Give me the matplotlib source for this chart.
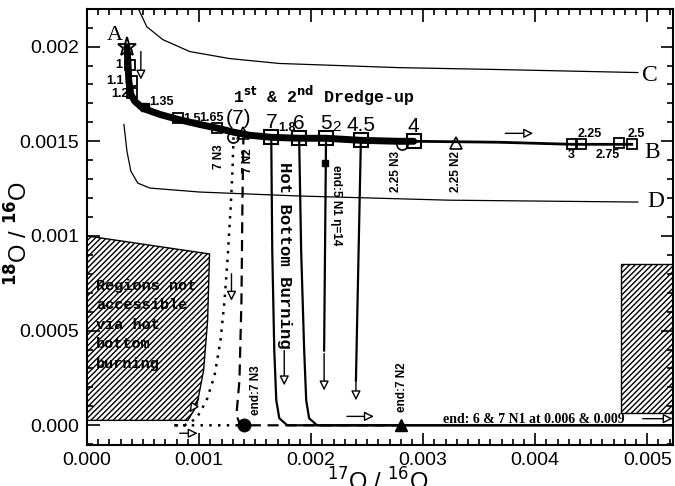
import matplotlib
matplotlib.use('agg')
import matplotlib.pyplot as plt
from matplotlib.patches import Polygon, Rectangle
from matplotlib.ticker import MultipleLocator
import numpy as np

# evolution track (1st & 2nd dredge-up), thick part then thin part
evo_x = [0.000356, 0.000364, 0.000373, 0.000391, 0.000427, 0.000498, 0.000649, 0.000809,
         0.001004, 0.001173, 0.001316, 0.001449, 0.001644, 0.001893, 0.002133, 0.002444,
         0.002782, 0.002916]
evo_y = [0.002000, 0.001921, 0.001816, 0.001747, 0.001711, 0.001674, 0.001642, 0.001616,
         0.001589, 0.001568, 0.001547, 0.001532, 0.001521, 0.001516, 0.001516, 0.001505,
         0.001500, 0.001500]
evo2_x = [0.002916, 0.003671, 0.004329, 0.004862]
evo2_y = [0.001500, 0.001495, 0.001484, 0.001484]

# small mass squares
sm_x = [0.000382, 0.000400, 0.000400, 0.000809, 0.001164, 0.004329, 0.004409, 0.004747, 0.004862]
sm_y = [0.001905, 0.001816, 0.001753, 0.001621, 0.001568, 0.001484, 0.001484, 0.001489, 0.001484]
sm_lab = ['1', '1.1', '1.2', '1.5', '1.65', '3', '2.25', '2.75', '2.5']
# label positions for the small squares
sm_lx = [0.000285, 0.000250, 0.000295, 0.000935, 0.001115, 0.004320, 0.004490, 0.004650, 0.004900]
sm_ly = [0.001905, 0.001816, 0.001750, 0.001620, 0.001625, 0.001425, 0.001540, 0.001430, 0.001540]
# big mass squares (HBB models)
big_x = [0.001644, 0.001893, 0.002133, 0.002444, 0.002916]
big_y = [0.001521, 0.001516, 0.001516, 0.001505, 0.001500]
big_lab = ['7', '6', '5', '4.5', '4']

n3_x = [0.001307, 0.002809]
n3_y = [0.001521, 0.001484]
n2_x = [0.001396, 0.003289]
n2_y = [0.001542, 0.001489]

# HBB tracks
t7_x = [0.001644, 0.001653, 0.001671, 0.001689, 0.001716, 0.001787, 0.0053]
t7_y = [0.001521, 0.000921, 0.000395, 0.000132, 0.000037, 0.0, 0.0]
t6_x = [0.001893, 0.001911, 0.001938, 0.001956, 0.001982, 0.002053, 0.0053]
t6_y = [0.001516, 0.000921, 0.000395, 0.000132, 0.000037, 0.0, 0.0]
t5_x = [0.002133, 0.002116]
t5_y = [0.001516, 0.000395]
t45_x = [0.002444, 0.002400]
t45_y = [0.001505, 0.000237]
n2_tr_x = [0.001396, 0.001387, 0.001378, 0.001360, 0.001333, 0.001369, 0.0028]
n2_tr_y = [0.001542, 0.001184, 0.000658, 0.000237, 0.000053, 0.0, 0.0]
n3_tr_x = [0.001307, 0.001298, 0.001280, 0.001253, 0.001227, 0.001191, 0.001138, 0.001067,
           0.000978, 0.000871, 0.000756, 0.001404]
n3_tr_y = [0.001521, 0.001342, 0.001132, 0.000868, 0.000658, 0.000447, 0.000263, 0.000132,
           0.000037, 0.0, 0.0, 0.0]

# reference curves C and D
c_x = [0.000462, 0.000533, 0.000676, 0.000916, 0.001271, 0.001716, 0.002782, 0.003671, 0.004916]
c_y = [0.002195, 0.002105, 0.002037, 0.001974, 0.001937, 0.001911, 0.001889, 0.001879, 0.001863]
d_x = [0.000329, 0.000356, 0.000391, 0.000453, 0.000560, 0.001004, 0.001893, 0.003227, 0.004916]
d_y = [0.001589, 0.001447, 0.001342, 0.001279, 0.001253, 0.001232, 0.001211, 0.001189, 0.001179]

# forbidden regions
left_reg_x = [0.0, 0.001093, 0.001076, 0.00104, 0.00098, 0.0009, 0.0]
left_reg_y = [0.001, 0.000905, 0.000553, 0.00029, 0.000105, 0.000026, 0.000026]
right_reg = (0.00477, 0.000063, 0.0006, 0.00079)

# arrows (start, end)
arrows = [((0.00048, 0.001974), (0.00048, 0.001826)),
          ((0.00176, 0.000395), (0.00176, 0.000211)),
          ((0.001289, 0.0008), (0.001289, 0.000658)),
          ((0.002116, 0.000379), (0.002116, 0.000184)),
          ((0.0024, 0.000247), (0.0024, 0.000132)),
          ((0.000996, 0.000142), (0.000916, 0.000068)),
          ((0.000827, -0.000042), (0.000987, -0.000042)),
          ((0.00232, 0.000047), (0.00256, 0.000047)),
          ((0.003733, 0.001542), (0.003982, 0.001542)),
          ((0.00496, 0.000035), (0.005227, 0.000035))]

fig = plt.figure(figsize=(6.75, 4.86), dpi=100)
ax = fig.add_axes([0.129, 0.084, 0.868, 0.898])
ax.set_xlim(0, 0.00523)
ax.set_ylim(-0.000105, 0.0022)

sans = 'Liberation Sans'
mono = 'Liberation Mono'
serif = 'Liberation Serif'

ax.add_patch(Polygon(list(zip(left_reg_x, left_reg_y)), closed=True, fc='white', ec='black',
                     hatch='//////', lw=1, zorder=1))
ax.add_patch(Rectangle(right_reg[:2], right_reg[2], right_reg[3], fc='white', ec='black',
                       hatch='//////', lw=1, zorder=1))

ax.plot(c_x, c_y, color='black', lw=0.9)
ax.plot(d_x, d_y, color='black', lw=0.9)

ax.plot(t7_x, t7_y, color='black', lw=1.6)
ax.plot(t6_x, t6_y, color='black', lw=1.6)
ax.plot(t5_x, t5_y, color='black', lw=1.6)
ax.plot(t45_x, t45_y, color='black', lw=1.6)
ax.plot(n2_tr_x, n2_tr_y, color='black', lw=1.6, ls=(0, (5, 3)))
ax.plot(n3_tr_x, n3_tr_y, color='black', lw=1.8, ls=(0, (1, 2.5)))

ax.plot(evo_x, evo_y, color='black', lw=5, solid_capstyle='round', zorder=3)
ax.plot(evo2_x, evo2_y, color='black', lw=2, zorder=3)

ax.plot(sm_x, sm_y, 's', ms=7, mfc='none', mec='black', mew=1.3, zorder=4)
ax.plot(big_x, big_y, 's', ms=10, mfc='none', mec='black', mew=1.5, zorder=4)
ax.plot([0.000516], [0.001679], 's', ms=6, color='black', zorder=4)
ax.plot(n3_x, n3_y, 'o', ms=8, mfc='none', mec='black', mew=1.2, zorder=4)
ax.plot(n2_x, n2_y, '^', ms=8, mfc='none', mec='black', mew=1.2, zorder=4)
ax.plot([0.000356], [0.002], '*', ms=14, mfc='none', mec='black', mew=1.3, zorder=5)
ax.plot([0.001404], [0.0], 'o', ms=9, color='black', zorder=5)
ax.plot([0.0028], [0.0], '^', ms=8, color='black', zorder=5)
ax.plot([0.002124], [0.001384], 's', ms=5, color='black', zorder=5)

for (x0, y0), (x1, y1) in arrows:
    ax.annotate('', xy=(x1, y1), xytext=(x0, y0),
                arrowprops=dict(arrowstyle='-|>', fc='white', ec='black', lw=1,
                                mutation_scale=14, shrinkA=0, shrinkB=0))

# labels
for x, y, s in zip(sm_lx, sm_ly, sm_lab):
    ax.text(x, y, s, ha='center', va='center', fontsize=9, family=sans, fontweight='bold')
ax.text(0.00066, 0.001705, '1.35', ha='center', va='center', fontsize=9, family=sans,
        fontweight='bold')
for x, y, s in zip(big_x, big_y, big_lab):
    ax.text(x, y + 0.00003, s, ha='center', va='bottom', fontsize=15, family=sans)
ax.text(0.00135, 0.00157, '(7)', ha='center', va='bottom', fontsize=15, family=sans)
ax.text(0.00178, 0.00154, '1.8', ha='center', va='bottom', fontsize=9, family=sans,
        fontweight='bold')
ax.text(0.00223, 0.00154, '2', ha='center', va='bottom', fontsize=11, family=sans)

ax.text(0.00025, 0.00206, 'A', ha='center', va='center', fontsize=16, family=serif)
ax.text(0.00504, 0.00144, 'B', ha='center', va='center', fontsize=17, family=serif)
ax.text(0.00502, 0.00185, 'C', ha='center', va='center', fontsize=17, family=serif)
ax.text(0.00508, 0.00118, 'D', ha='center', va='center', fontsize=17, family=serif)

ax.text(0.00130, 0.00174, r'1$^{\mathbf{st}}$ & 2$^{\mathbf{nd}}$ Dredge-up', ha='left',
        va='center', fontsize=12, family=mono, fontweight='bold')
ax.text(0.00176, 0.00090, 'Hot Bottom Burning', rotation=270, ha='center', va='center',
        fontsize=12.5, family=mono, fontweight='bold')
ax.text(0.00008, 0.00053, 'Regions not\naccessible\nvia hot\nbottom\nburning', ha='left',
        va='center', fontsize=11, family=mono, fontweight='bold', linespacing=1.5)

rot_lab = [(0.00118, 0.00142, '7 N3', 90), (0.00144, 0.00140, '7 N2', 90),
           (0.00276, 0.00134, '2.25 N3', 90), (0.00329, 0.00134, '2.25 N2', 90),
           (0.00222, 0.00116, u'end:5 N1 \u03b7=14', 270), (0.00151, 0.000184, 'end:7 N3', 90),
           (0.00281, 0.00020, 'end:7 N2', 90)]
for x, y, s, r in rot_lab:
    ax.text(x, y, s, rotation=r, ha='center', va='center', fontsize=8.5, family=sans,
            fontweight='bold')
ax.text(0.00318, 0.000033, 'end: 6 & 7 N1 at 0.006 & 0.009', ha='left', va='center',
        fontsize=10, family=serif, fontweight='bold')

ax.xaxis.set_minor_locator(MultipleLocator(0.0001))
ax.yaxis.set_minor_locator(MultipleLocator(0.0001))
ax.set_xticks([0, 0.001, 0.002, 0.003, 0.004, 0.005])
ax.set_xticklabels(['0.000', '0.001', '0.002', '0.003', '0.004', '0.005'])
ax.set_yticks([0, 0.0005, 0.001, 0.0015, 0.002])
ax.set_yticklabels(['0.000', '0.0005', '0.001', '0.0015', '0.002'])
ax.tick_params(which='both', direction='in', top=True, right=True, width=1.2)
ax.tick_params(which='major', length=9, labelsize=14)
ax.tick_params(axis='x', which='major', pad=5)
ax.tick_params(axis='y', which='major', pad=6)
ax.tick_params(which='minor', length=4.5)
for lab in ax.get_xticklabels() + ax.get_yticklabels():
    lab.set_family(sans)
for sp in ax.spines.values():
    sp.set_linewidth(1.5)

fig.text(0.56, 1 - 468.0 / 486, r'$^{17}$O / $^{16}$O', ha='center', va='top', fontsize=17,
         family=sans)
fig.text(0.028, 0.52, r'$^{\mathbf{18}}$O / $^{\mathbf{16}}$O', ha='center', va='center',
         rotation=90, fontsize=17, family=sans)

fig.savefig('out.png', dpi=100)
plt.close(fig)
